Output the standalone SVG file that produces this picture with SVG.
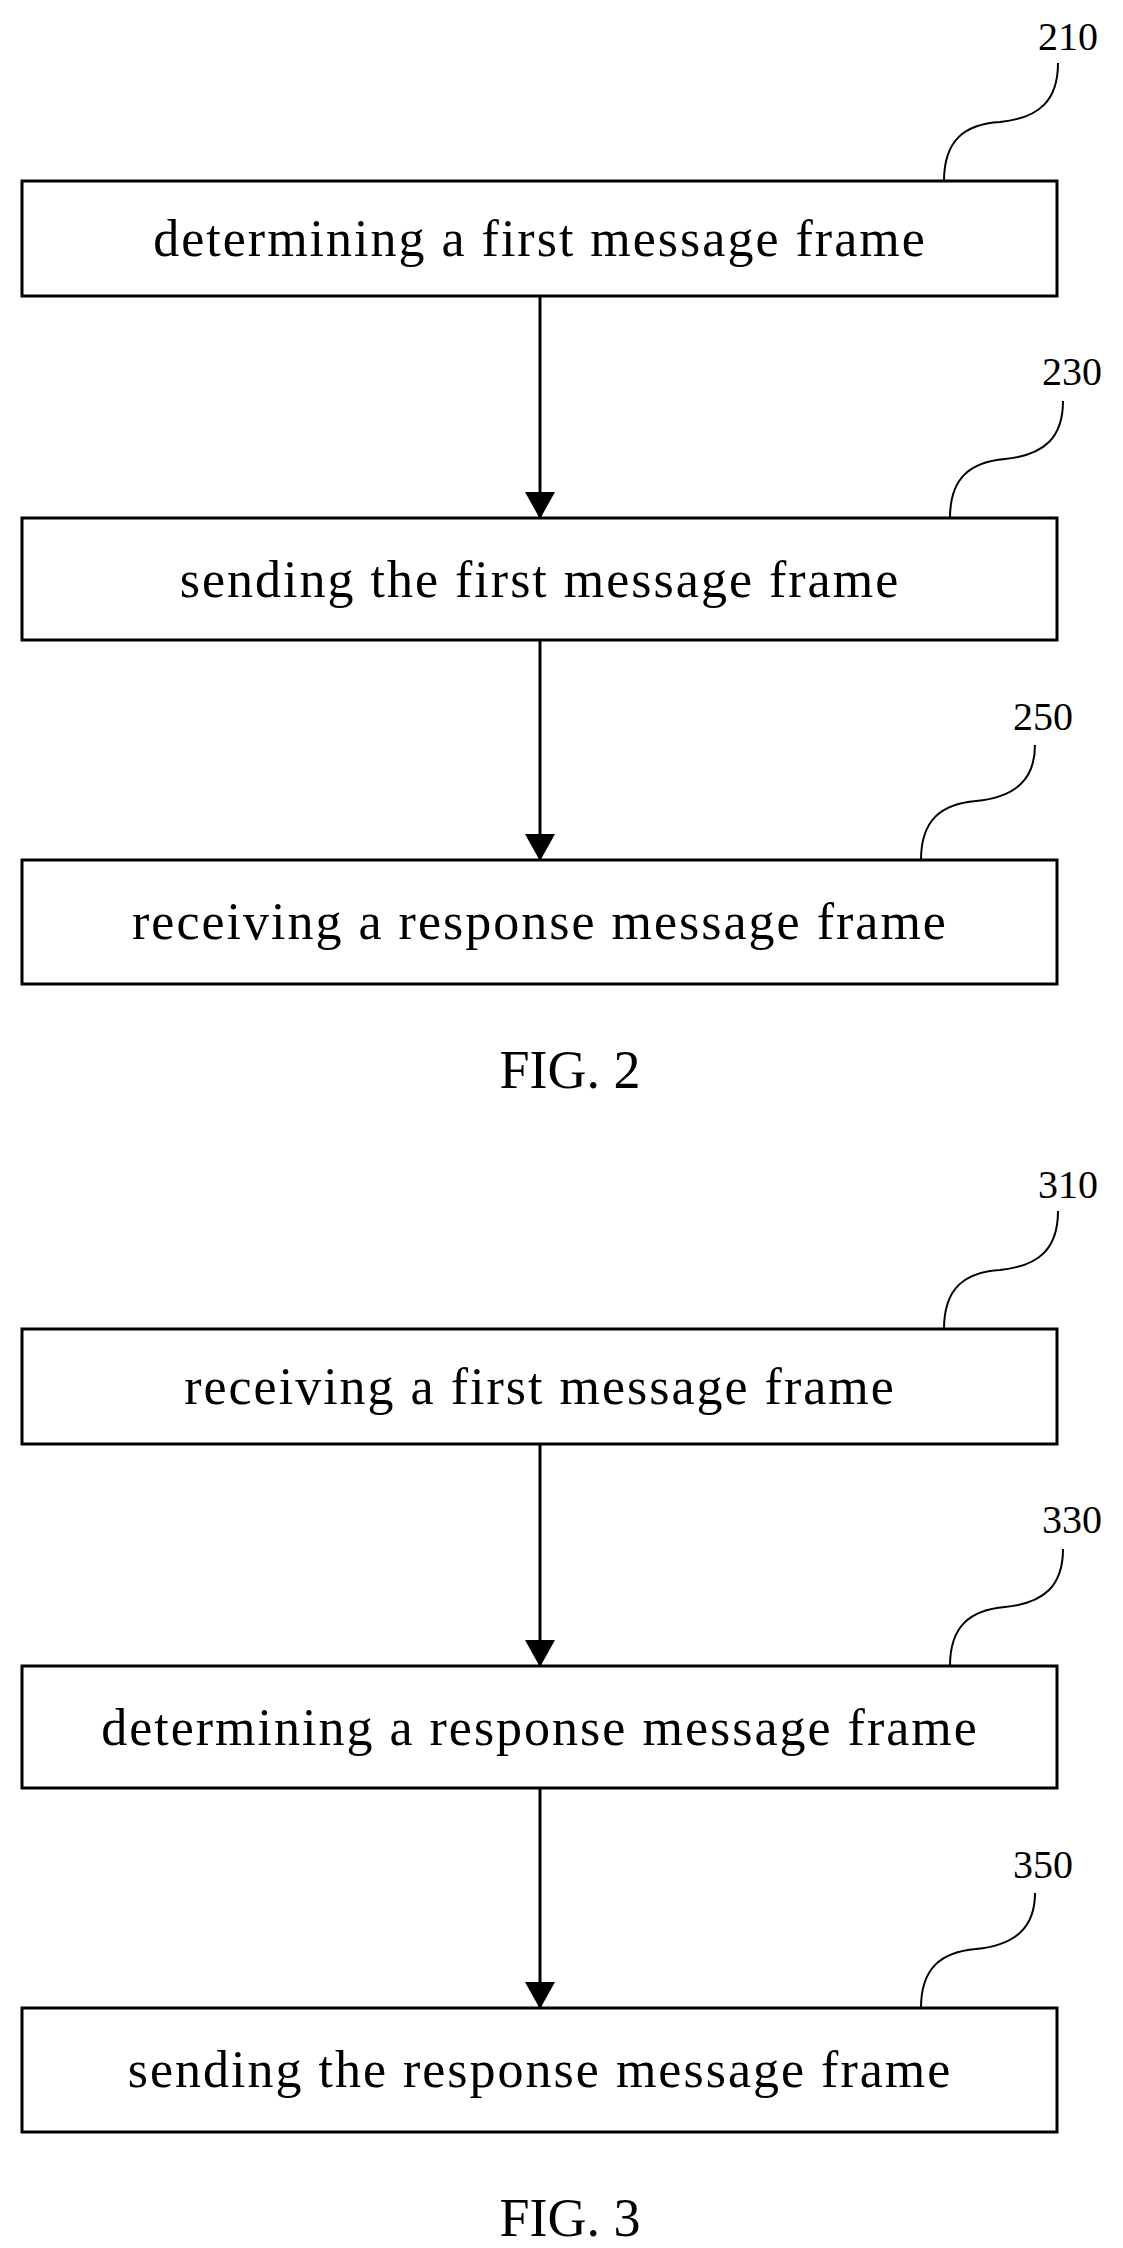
<svg xmlns="http://www.w3.org/2000/svg" width="1123" height="2248" viewBox="0 0 1123 2248">
<style>
.box{fill:#fff;stroke:#000;stroke-width:3}
.t{font-family:"Liberation Serif",serif;font-size:52px;text-anchor:middle;fill:#000;letter-spacing:2px}
.n{font-family:"Liberation Serif",serif;font-size:40px;text-anchor:middle;fill:#000}
.f{font-family:"Liberation Serif",serif;font-size:54px;text-anchor:middle;fill:#000}
.c{fill:none;stroke:#000;stroke-width:3}
.l{fill:none;stroke:#000;stroke-width:2}
</style>
<defs>
<marker id="b" markerUnits="userSpaceOnUse" markerWidth="30" markerHeight="30" refX="26" refY="15" orient="auto" viewBox="0 0 30 30"><path d="M0 0 L27 15 L0 30 Z" fill="#000"/></marker></defs>
<rect width="1123" height="2248" fill="#fff"/>
<g id="n210"><rect class="box" x="22" y="181" width="1035" height="115"/><text class="t" x="540" y="256">determining a first message frame</text><path class="l" d="M944 181 C944 140 965 124 1000 122 C1040 118 1058 100 1058 63"/><text class="n" x="1068" y="50">210</text></g>
<g id="n230"><rect class="box" x="22" y="518" width="1035" height="122"/><text class="t" x="540" y="597">sending the first message frame</text><path class="l" d="M950 518 C950 478 970 462 1005 459 C1045 455 1063 437 1063 401"/><text class="n" x="1072" y="385">230</text></g>
<g id="n250"><rect class="box" x="22" y="860" width="1035" height="124"/><text class="t" x="540" y="939">receiving a response message frame</text><path class="l" d="M921 860 C921 820 941 804 976 801 C1016 797 1035 779 1035 745"/><text class="n" x="1043" y="730">250</text></g>
<text id="fig2" class="f" x="570" y="1088">FIG. 2</text>
<g id="n310"><rect class="box" x="22" y="1329" width="1035" height="115"/><text class="t" x="540" y="1404">receiving a first message frame</text><path class="l" d="M944 1329 C944 1288 965 1272 1000 1270 C1040 1266 1058 1248 1058 1211"/><text class="n" x="1068" y="1198">310</text></g>
<g id="n330"><rect class="box" x="22" y="1666" width="1035" height="122"/><text class="t" x="540" y="1745">determining a response message frame</text><path class="l" d="M950 1666 C950 1626 970 1610 1005 1607 C1045 1603 1063 1585 1063 1549"/><text class="n" x="1072" y="1533">330</text></g>
<g id="n350"><rect class="box" x="22" y="2008" width="1035" height="124"/><text class="t" x="540" y="2087">sending the response message frame</text><path class="l" d="M921 2008 C921 1968 941 1952 976 1949 C1016 1945 1035 1927 1035 1893"/><text class="n" x="1043" y="1878">350</text></g>
<text id="fig3" class="f" x="570" y="2236">FIG. 3</text>
<g id="connectors">
<path class="c" d="M540 296 V518" marker-end="url(#b)"/>
<path class="c" d="M540 640 V860" marker-end="url(#b)"/>
<path class="c" d="M540 1444 V1666" marker-end="url(#b)"/>
<path class="c" d="M540 1788 V2008" marker-end="url(#b)"/>
</g>
</svg>
